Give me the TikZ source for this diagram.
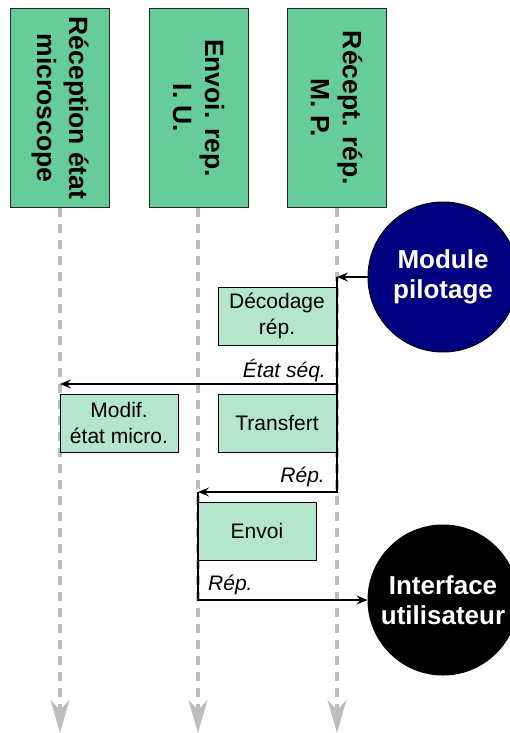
\documentclass[tikz,border=0pt]{standalone}
\usepackage{fontspec}
\setmainfont{Liberation Sans}
\usetikzlibrary{arrows.meta}

\definecolor{headgreen}{RGB}{102,204,153}
\definecolor{taskgreen}{RGB}{179,230,204}
\definecolor{lanegray}{RGB}{190,190,190}
\definecolor{navyblue}{RGB}{0,0,128}

\begin{document}
\begin{tikzpicture}[x=1pt, y=-1pt,
    every node/.style={align=center},
    head/.style={draw=black!85, line width=1pt, fill=headgreen, rotate=-90, minimum width=198pt, minimum height=99pt, inner sep=0pt, font=\fontsize{26.5}{32}\selectfont\bfseries},
    task/.style={draw=black, line width=1pt, fill=taskgreen, minimum width=118pt, minimum height=58pt, inner sep=0pt, font=\fontsize{21}{26.5}\selectfont},
    actor/.style={circle, draw=black, line width=1pt, minimum size=150pt, inner sep=0pt, text=white, font=\fontsize{26}{30}\selectfont\bfseries},
    lane/.style={draw=lanegray, line width=3.5pt, dash pattern=on 9pt off 7pt, -{Stealth[length=33pt, width=19pt, inset=10pt]}},
    msg/.style={draw=black, line width=1.3pt, -{Stealth[length=11pt, width=9pt, inset=4pt]}},
    tag/.style={inner sep=0pt, font=\fontsize{21}{25}\selectfont\itshape}]
    \useasboundingbox (0,0) rectangle (509,733);

    \coordinate (end1) at (60,733);
    \coordinate (end2) at (198,733);
    \coordinate (end3) at (337,733);
    \draw[lane] (60,208) -- (end1);
    \draw[lane] (198,208) -- (end2);
    \draw[lane] (337,208) -- (end3);

    \node[head] (micro) at (60,108) {Réception état\\microscope};
    \node[head] (envoi) at (198.5,108) {Envoi. rep.\\I. U.};
    \node[head] (recep) at (336.5,108) {Récept. rép.\\M. P.};

    \node[actor, fill=navyblue] (pilot) at (443,277) {Module\\pilotage};
    \node[actor, fill=black] (iu) at (443,600) {Interface\\utilisateur};

    \node[task] (decod) at (277,316) {Décodage\\rép.};
    \node[task] (modif) at (119,423) {Modif.\\état micro.};
    \node[task] (transf) at (277,423) {Transfert};
    \node[task] (send) at (257,531) {Envoi};

    \coordinate (a1) at (337,277);
    \coordinate (a2) at (337,384);
    \coordinate (a3) at (337,492);
    \coordinate (b1) at (60,384);
    \coordinate (c1) at (198,492);
    \coordinate (c2) at (198,600);

    \draw[msg] (pilot.west) -- (a1);
    \draw[msg] (a1) -- (a2) -- (b1);
    \draw[msg] (a2) -- (a3) -- (c1);
    \draw[msg] (c1) -- (c2) -- (iu.west);

    \node[tag, anchor=base east] (etat) at (326,377) {État séq.};
    \node[tag, anchor=base east] (rep1) at (325,482) {Rép.};
    \node[tag, anchor=base west] (rep2) at (208,590) {Rép.};
\end{tikzpicture}
\end{document}
